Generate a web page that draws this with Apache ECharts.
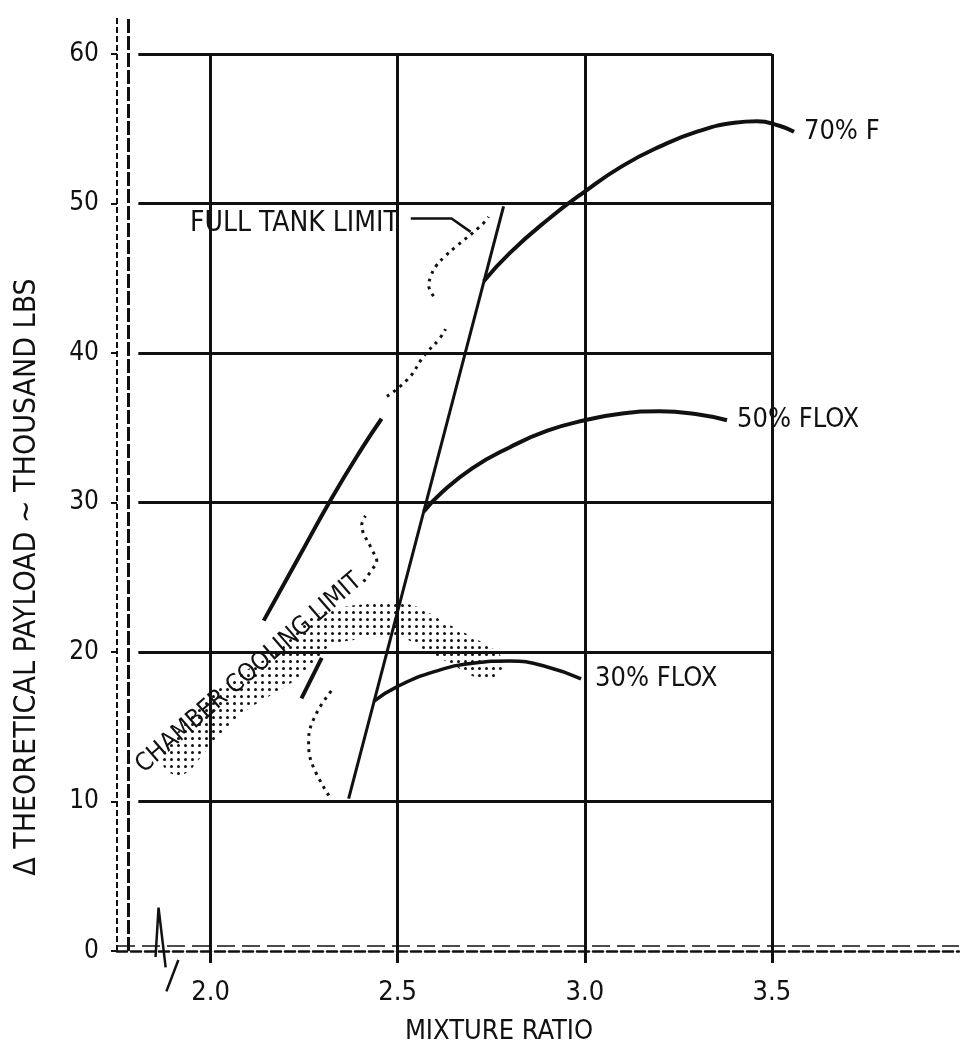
<!DOCTYPE html>
<html><head><meta charset="utf-8">
<script src="https://cdn.jsdelivr.net/npm/echarts@6/dist/echarts.min.js"></script>
<style>html,body{margin:0;padding:0;background:#fff}#c{width:960px;height:1051px}</style>
</head><body><div id="c"></div>
<script>
// ---- data ----
const xTickLabels = [2.0, 2.5, 3.0, 3.5];
const yTickLabels = [0, 10, 20, 30, 40, 50, 60];
const flox70 = [[2.730,44.8],[2.80,46.7],[2.90,48.9],[3.00,50.8],[3.10,52.5],[3.20,53.8],[3.30,54.8],[3.40,55.4],[3.46,55.5],[3.52,55.2],[3.559,54.8]];
const flox50 = [[2.570,29.4],[2.615,30.6],[2.70,32.3],[2.80,33.7],[2.90,34.8],[3.00,35.5],[3.10,35.95],[3.20,36.1],[3.30,35.9],[3.38,35.5]];
const flox30 = [[2.436,16.7],[2.50,17.7],[2.60,18.7],[2.70,19.25],[2.80,19.4],[2.90,19.0],[2.99,18.2]];
const steepLine = [[2.369,10.2],[2.783,49.8]];
const leftLine = [[2.142,22.1],[2.235,26.3],[2.324,30.3],[2.404,33.6],[2.457,35.6]];
const leftDotted = [[2.471,37.1],[2.529,38.3],[2.570,39.8],[2.610,40.9],[2.628,41.6]];
const fullTankLimit = [[2.316,10.4],[2.270,12.6],[2.262,14.1],[2.283,15.9],[2.329,17.6],null,
  [2.409,24.7],[2.428,25.4],[2.444,26.1],[2.430,26.9],[2.404,28.5],[2.414,29.1],null,
  [2.596,43.8],[2.583,44.5],[2.588,45.1],[2.602,45.8],[2.628,46.5],[2.655,47.1],[2.722,48.5],[2.743,49.1]];
const fullTankLeader = [[2.535,49.0],[2.644,49.0],[2.695,48.1]];
const coolingBand = [[1.914,12.9],[2.048,16.6],[2.209,19.2],[2.316,21.6],[2.503,22.1],[2.610,20.9],[2.735,19.2]];
const coolingTick = [[2.243,16.9],[2.297,19.6]];
const axisBreak = [[1.853,-0.4],[1.861,2.9],[1.880,-1.1],null,[1.882,-2.7],[1.914,-0.6]];
const labels = {f70:'70% F', f50:'50% FLOX', f30:'30% FLOX', fullTank:'FULL TANK LIMIT',
  cooling:'CHAMBER COOLING LIMIT', xName:'MIXTURE RATIO', yName:'\u0394 THEORETICAL PAYLOAD ~ THOUSAND LBS'};

// ---- styling ----
const FONT = "'Liberation Sans Narrow','DejaVu Sans Condensed','Liberation Sans',sans-serif";
const INK = '#111';
const gridLeftX = 1.807, gridRightX = 3.5, innerAxisX = 1.78;

const chart = echarts.init(document.getElementById('c'), null, {renderer:'canvas'});

// stipple pattern for the chamber cooling band
const pc = document.createElement('canvas');
pc.width = 7; pc.height = 7;
const pctx = pc.getContext('2d');
pctx.fillStyle = '#111';
pctx.beginPath(); pctx.arc(3.5,3.5,1.5,0,Math.PI*2); pctx.fill();

const hLines = yTickLabels.filter(v => v > 0).map(v => [{coord:[gridLeftX, v]},{coord:[gridRightX, v]}]);
const vLines = xTickLabels.map(v => [{coord:[v, 0]},{coord:[v, 60]}]);
const leftLines = [
  [{coord:[1.75, 0], lineStyle:{type:[6,3], width:2}},{coord:[1.75, 62.5]}],
  [{coord:[innerAxisX, 0], lineStyle:{type:[14,3], width:3}},{coord:[innerAxisX, 62.5]}],
  [{coord:[1.75, 0.35], lineStyle:{type:[18,7], width:1.5}},{coord:[4.0, 0.35]}]
];

function lineSeries(data, extra){
  return Object.assign({type:'line', data, symbol:'none', animation:false, silent:true,
    lineStyle:{color:INK, width:3}, z:5}, extra||{});
}
const endLbl = (txt, dist) => ({show:true, formatter:txt, distance:dist, color:INK, fontSize:27, fontFamily:FONT, align:'left', verticalAlign:'middle'});

const option = {
  backgroundColor:'#fff', animation:false,
  grid:{left:117, right:1, top:16.6, bottom:100},
  xAxis:{type:'value', min:1.75, max:4.0,
    axisLine:{lineStyle:{color:INK, width:2.5, type:[10,4]}},
    axisTick:{show:true, customValues:xTickLabels, length:12, lineStyle:{color:INK, width:3}},
    splitLine:{show:false},
    axisLabel:{customValues:xTickLabels, margin:28, fontSize:27, fontFamily:FONT, color:INK,
      formatter: v => Number(v).toFixed(1)}},
  yAxis:{type:'value', min:0, max:62.5,
    axisLine:{show:false}, splitLine:{show:false},
    axisTick:{show:true, customValues:yTickLabels, length:6, lineStyle:{color:INK, width:2}},
    axisLabel:{customValues:yTickLabels, margin:18, fontSize:26, fontFamily:FONT, color:INK}},
  series:[
    lineSeries(coolingBand, {smooth:0.4, z:1, lineStyle:{color:{image:pc, repeat:'repeat'}, width:34, cap:'round', join:'round'}}),
    lineSeries(steepLine, {markLine:{silent:true, symbol:['none','none'], label:{show:false}, animation:false,
      lineStyle:{color:INK, width:3, type:'solid'}, data:[...hLines, ...vLines, ...leftLines]}}),
    lineSeries(flox70, {smooth:0.5, lineStyle:{color:INK, width:4}, endLabel:endLbl(labels.f70, 10)}),
    lineSeries(flox50, {smooth:0.5, lineStyle:{color:INK, width:4}, endLabel:endLbl(labels.f50, 10)}),
    lineSeries(flox30, {smooth:0.5, lineStyle:{color:INK, width:3.5}, endLabel:endLbl(labels.f30, 14)}),
    lineSeries(leftLine, {smooth:true, lineStyle:{color:INK, width:4}}),
    lineSeries(leftDotted, {smooth:true, lineStyle:{color:INK, width:3, type:[3,5]}}),
    lineSeries(fullTankLimit, {smooth:0.4, connectNulls:false, lineStyle:{color:INK, width:3, type:[3,5]}}),
    lineSeries(fullTankLeader, {lineStyle:{color:INK, width:2.5}}),
    lineSeries(coolingTick, {lineStyle:{color:INK, width:4}}),
    lineSeries(axisBreak, {clip:false, connectNulls:false, lineStyle:{color:INK, width:2.5}})
  ]
};
chart.setOption(option);

const coolAnchor = chart.convertToPixel({gridIndex:0}, [1.81, 12.2]);
const leaderStart = chart.convertToPixel({gridIndex:0}, fullTankLeader[0]);
chart.setOption({graphic:[
  {type:'text', x:27, y:577, rotation:Math.PI/2, silent:true,
    style:{text:labels.yName, fill:INK, font:'30px ' + FONT, textAlign:'center', textVerticalAlign:'middle'}},
  {type:'text', x:499, y:1032, silent:true,
    style:{text:labels.xName, fill:INK, font:'27px ' + FONT, textAlign:'center', textVerticalAlign:'middle'}},
  {type:'text', x:leaderStart[0] - 12, y:leaderStart[1] + 5, silent:true,
    style:{text:labels.fullTank, fill:INK, font:'28px ' + FONT, textAlign:'right', textVerticalAlign:'middle'}},
  {type:'text', x:coolAnchor[0], y:coolAnchor[1], rotation:41*Math.PI/180, silent:true, z:10,
    style:{text:labels.cooling, fill:INK, font:'25px ' + FONT, textAlign:'left', textVerticalAlign:'middle'}}
]});
</script></body></html>
